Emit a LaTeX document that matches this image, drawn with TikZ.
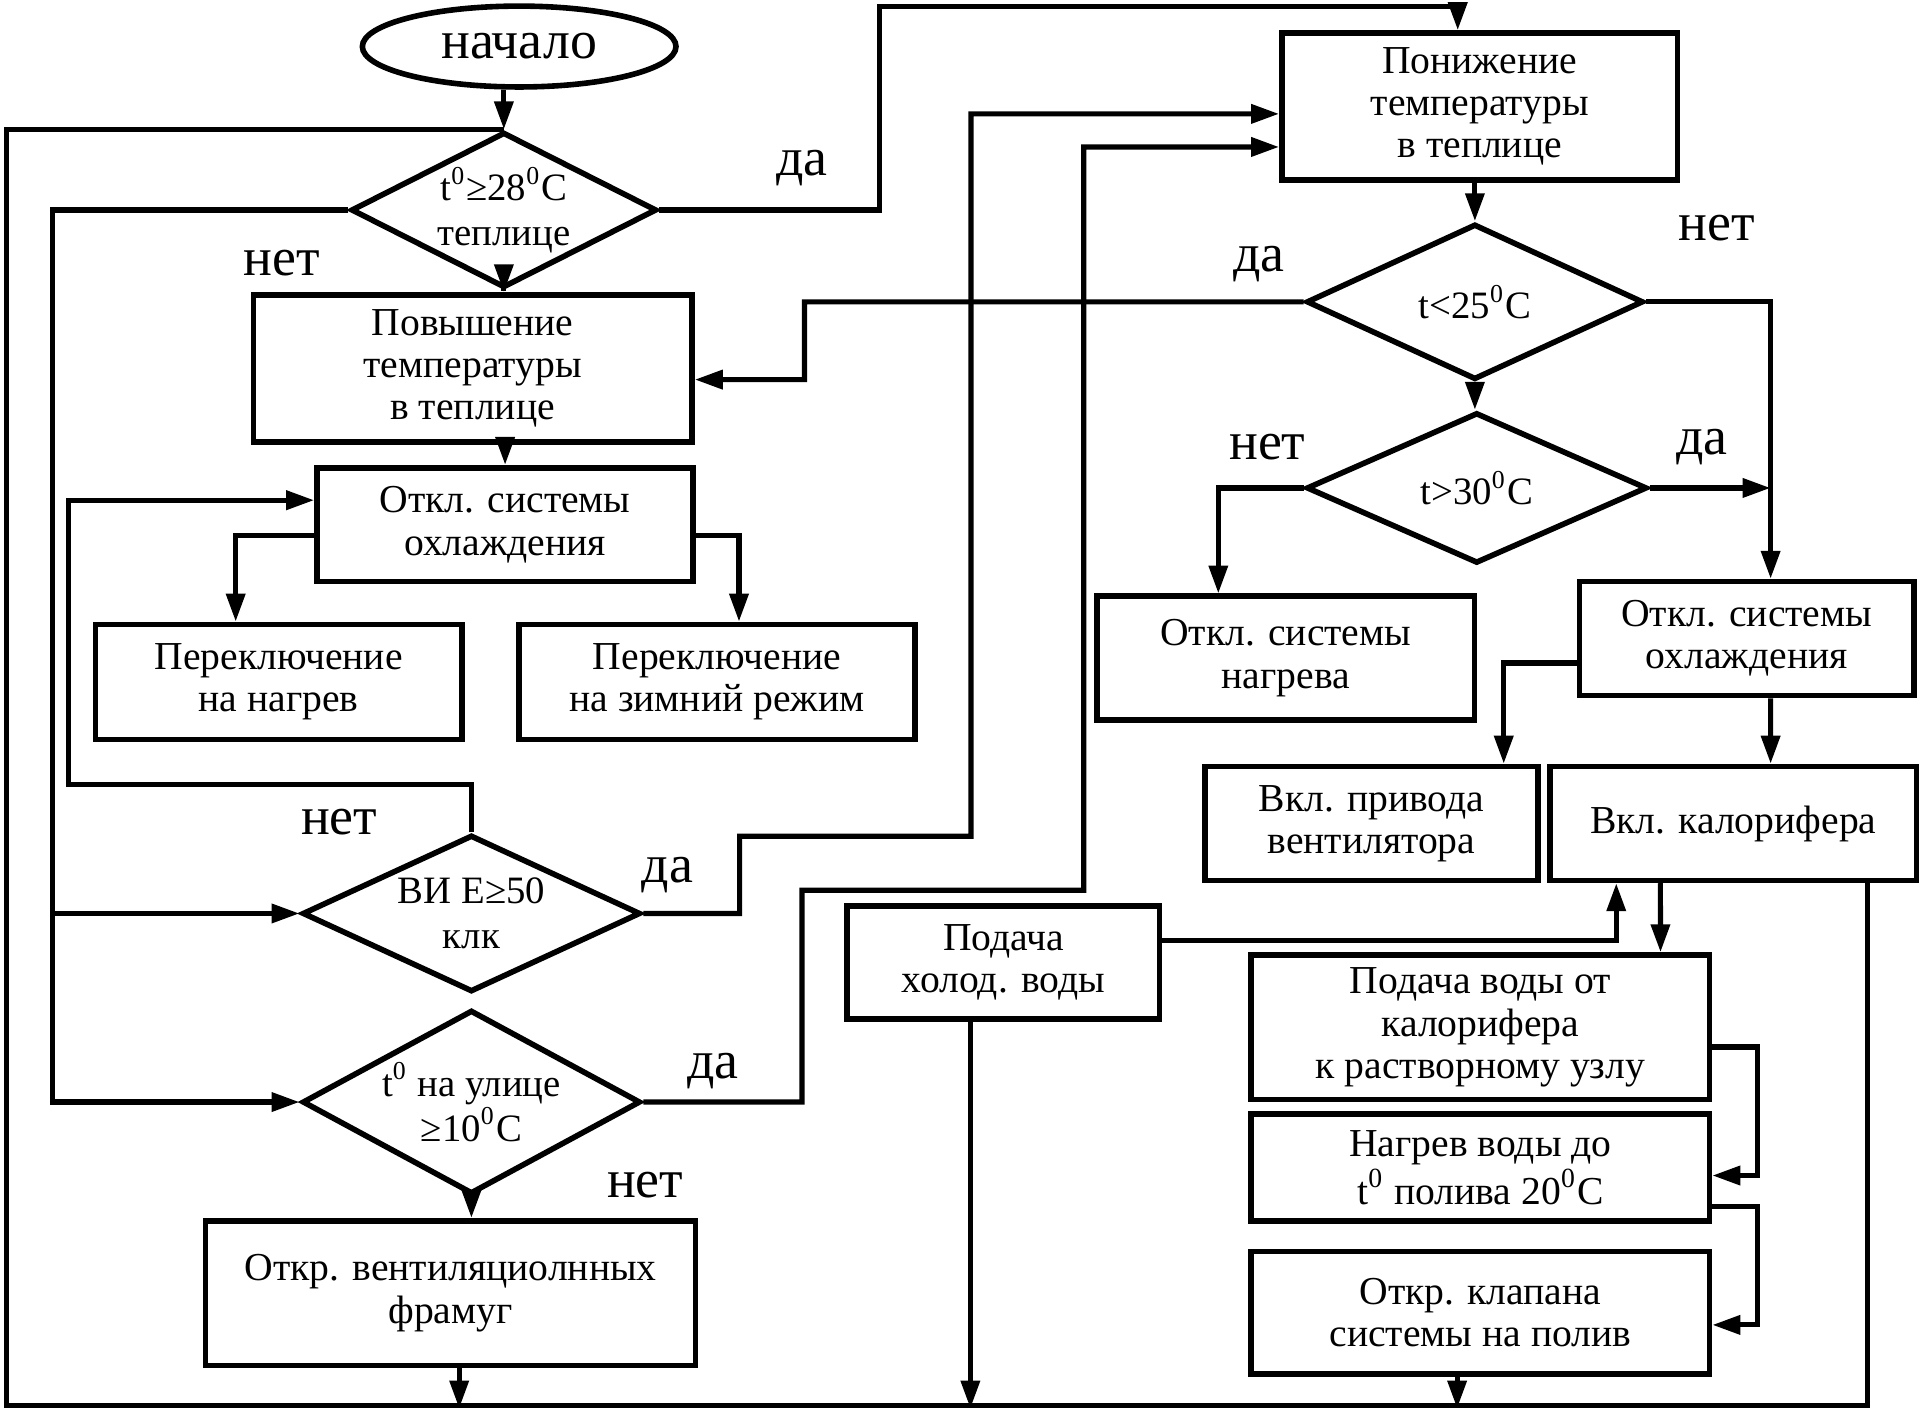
\documentclass[tikz,border=0pt]{standalone}
\usepackage{fontspec}
\setmainfont{Liberation Serif}
\usetikzlibrary{shapes.geometric,arrows.meta}

\begin{document}
\begin{tikzpicture}[x=0.01cm,y=-0.01cm,
  box/.style={draw,line width=1.3pt,inner sep=0pt,align=center,font=\fontsize{9.2}{9.8}\selectfont},
  dia/.style={draw,diamond,aspect=2,line width=1.3pt,inner sep=0pt,align=center,font=\fontsize{9}{10.5}\selectfont},
  lbl/.style={font=\fontsize{12.5}{14}\selectfont},
  line/.style={line width=1.2pt},
  arr/.style={line,-{Triangle[length=6.5pt,width=4.3pt]}}]
  \useasboundingbox (0,0) rectangle (1568,1157);

  % left branch
  \node[draw,ellipse,line width=1.3pt,inner sep=0pt,minimum width=2.56cm,minimum height=0.66cm,lbl] (start) at (424,38) {начало};
  \node[dia,minimum width=2.43cm,minimum height=1.27cm] (d1) at (411.5,171.5) {t\textsuperscript{0}≥28\textsuperscript{0}C\\теплице};
  \node[box,minimum width=3.58cm,minimum height=1.2cm] (pov) at (386,301) {Повышение\\температуры\\в теплице};
  \node[box,minimum width=3.07cm,minimum height=0.93cm] (otk1) at (412.5,428.5) {Откл. системы\\охлаждения};
  \node[box,minimum width=2.99cm,minimum height=0.94cm] (pn1) at (227.5,557) {Переключение\\на нагрев};
  \node[box,minimum width=3.23cm,minimum height=0.94cm] (pn2) at (585.5,557) {Переключение\\на зимний режим};
  \node[dia,minimum width=2.76cm,minimum height=1.28cm] (d4) at (385,746) {ВИ E≥50\\клк};
  \node[dia,aspect=1.85,minimum width=2.76cm,minimum height=1.5cm] (d5) at (385,900) {t\textsuperscript{0} на улице\\≥10\textsuperscript{0}C};
  \node[box,minimum width=4cm,minimum height=1.18cm] (okv) at (368,1056) {Откр. вентиляциолнных\\фрамуг};

  % right branch
  \node[box,minimum width=3.23cm,minimum height=1.2cm] (pon) at (1208.5,87) {Понижение\\температуры\\в теплице};
  \node[dia,minimum width=2.75cm,minimum height=1.27cm] (d2) at (1204.5,246.5) {t<25\textsuperscript{0}C};
  \node[dia,minimum width=2.78cm,minimum height=1.23cm] (d3) at (1206,398.5) {t>30\textsuperscript{0}C};
  \node[box,minimum width=3.08cm,minimum height=1.01cm] (okn) at (1050,537.5) {Откл. системы\\нагрева};
  \node[box,minimum width=2.73cm,minimum height=0.93cm] (otk2) at (1426.5,521.5) {Откл. системы\\охлаждения};
  \node[box,minimum width=2.72cm,minimum height=0.93cm] (vkp) at (1120,672.5) {Вкл. привода\\вентилятора};
  \node[box,minimum width=2.99cm,minimum height=0.93cm] (kal) at (1415.5,672.5) {Вкл. калорифера};
  \node[box,minimum width=2.55cm,minimum height=0.92cm] (cold) at (819.5,786) {Подача\\холод. воды};
  \node[box,minimum width=3.74cm,minimum height=1.18cm] (pvk) at (1209,839) {Подача воды от\\калорифера\\к растворному узлу};
  \node[box,minimum width=3.74cm,minimum height=0.87cm] (nag) at (1209,953.5) {Нагрев воды до\\t\textsuperscript{0} полива 20\textsuperscript{0}C};
  \node[box,minimum width=3.74cm,minimum height=1cm] (klp) at (1209,1072) {Откр. клапана\\системы на полив};

  % labels
  \node[lbl] (l1) at (655,137) {да};
  \node[lbl] (l2) at (230,215) {нет};
  \node[lbl] (l3) at (277,671) {нет};
  \node[lbl] (l4) at (545,715) {да};
  \node[lbl] (l5) at (582,875) {да};
  \node[lbl] (l6) at (527,968) {нет};
  \node[lbl] (l7) at (1028,216) {да};
  \node[lbl] (l8) at (1402,186) {нет};
  \node[lbl] (l9) at (1035,365) {нет};
  \node[lbl] (l10) at (1390,365) {да};

  \coordinate (jl) at (43,746);
  \coordinate (jr) at (1446,400);

  % connectors
  \draw[arr] (start.south -| d1.north) -- (d1.north);
  \draw[arr] (d1.south) -- (d1.south |- pov.north);
  \draw[arr] (pov.south -| otk1.north) -- (otk1.north);
  \draw[arr] (d1.east) -| (718,5) -| ([xshift=-0.18cm]pon.north);
  \draw[arr] (d1.west) -| (43,900) -- (d5.west);
  \draw[arr] (jl) -- (d4.west);
  \draw[arr] (d4.north) |- (56,641) |- ([yshift=0.2cm]otk1.west);
  \draw[arr] ([yshift=-0.09cm]otk1.west) -| ([xshift=-0.35cm]pn1.north);
  \draw[arr] ([yshift=-0.09cm]otk1.east) -| ([xshift=0.18cm]pn2.north);
  \draw[arr] (d4.east) -| (604,683) -| (793,93) -- ([yshift=-0.06cm]pon.west);
  \draw[arr] (d5.east) -| (655,727) -| (885,120) -- ([yshift=-0.33cm]pon.west);
  \draw[arr] (d5.south) -- (d5.south |- okv.north);
  \draw[arr] ([xshift=0.07cm]okv.south) -- +(0,33);
  \draw[arr] ([xshift=-0.27cm]cold.south) -- +(0,316);
  \draw[arr] ([xshift=-0.19cm]klp.south) -- +(0,26);
  \draw[line] ([xshift=1.095cm]kal.south) |- (5,1148) |- (d1.north);

  \draw[arr] (pon.south -| d2.north) -- (d2.north);
  \draw[arr] (d2.west) -| (657,310) -- ([yshift=-0.09cm]pov.east);
  \draw[arr] (d2.east) -| ([xshift=0.195cm]otk2.north);
  \draw[arr] (d2.south) -- (d2.south |- d3.north);
  \draw[arr] (d3.east) -- (d3.east -| jr);
  \draw[arr] (d3.west) -| ([xshift=-0.55cm]okn.north);
  \draw[arr] ([yshift=-0.2cm]otk2.west) -| ([xshift=1.08cm]vkp.north);
  \draw[arr] ([xshift=0.195cm]otk2.south) -- ([xshift=0.305cm]kal.north);
  \draw[arr] ([yshift=0.18cm]cold.east) -| ([xshift=-0.955cm]kal.south);
  \draw[arr] ([xshift=-0.595cm]kal.south) -- ([xshift=1.47cm]pvk.north);
  \draw[arr] ([yshift=-0.16cm]pvk.east) -- ++(37,0) |- ([yshift=-0.065cm]nag.east);
  \draw[arr] ([yshift=-0.315cm]nag.east) -- ++(37,0) |- ([yshift=-0.1cm]klp.east);
\end{tikzpicture}
\end{document}
